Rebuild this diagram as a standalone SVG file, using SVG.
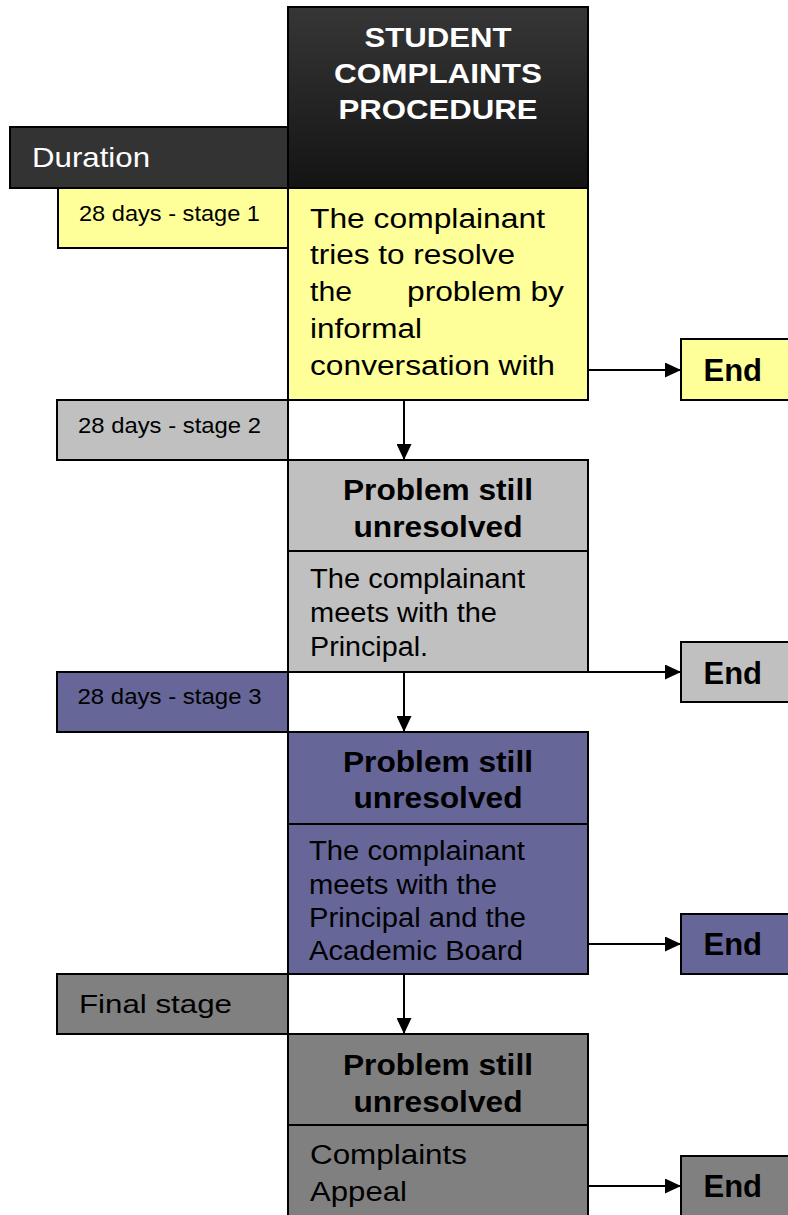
<svg xmlns="http://www.w3.org/2000/svg" width="788" height="1215" viewBox="0 0 788 1215">
<defs>
<linearGradient id="hdr" x1="0" y1="0" x2="0" y2="1"><stop offset="0" stop-color="#363636"/><stop offset="1" stop-color="#141414"/></linearGradient>
<marker id="arr" markerUnits="userSpaceOnUse" markerWidth="16" markerHeight="15" refX="16" refY="7.5" orient="auto"><path d="M0,0 L16,7.5 L0,15 z" fill="#000"/></marker>
</defs>
<style>
.box{stroke:#000;stroke-width:2}
.y{fill:#ffff99}.g{fill:#c0c0c0}.p{fill:#666699}.d{fill:#808080}
text{font-family:"Liberation Sans",Arial,sans-serif;fill:#000}
.t{font-size:27px}
.b{font-size:29px;font-weight:bold;text-anchor:middle}
.lbl{font-size:22px}
.end{font-size:31px;font-weight:bold}
.w{fill:#fff}
.title{font-size:28px;font-weight:bold;text-anchor:middle;fill:#fff}
.conn{stroke:#000;stroke-width:2;fill:none}
</style>
<g id="duration">
<rect class="box" x="10" y="127" width="278" height="61" fill="#333333"/>
<text class="w" x="32" y="167" font-size="28" textLength="118" lengthAdjust="spacingAndGlyphs">Duration</text>
</g>
<g id="header">
<rect class="box" x="288" y="7" width="300" height="181" fill="url(#hdr)"/>
<text class="title" x="438" y="46.5" textLength="147" lengthAdjust="spacingAndGlyphs">STUDENT</text>
<text class="title" x="438" y="82.5" textLength="208" lengthAdjust="spacingAndGlyphs">COMPLAINTS</text>
<text class="title" x="438" y="118.5" textLength="199" lengthAdjust="spacingAndGlyphs">PROCEDURE</text>
</g>
<g id="stage1-label">
<rect class="box y" x="58" y="188" width="230" height="60"/>
<text class="lbl" x="79" y="220.5" textLength="181" lengthAdjust="spacingAndGlyphs">28 days - stage 1</text>
</g>
<g id="stage1">
<rect class="box y" x="288" y="188" width="300" height="212"/>
<text class="t" x="310" y="227.5" textLength="235" lengthAdjust="spacingAndGlyphs">The complainant</text>
<text class="t" x="310" y="264" textLength="205" lengthAdjust="spacingAndGlyphs">tries to resolve</text>
<text class="t" x="310" y="300.5" textLength="42" lengthAdjust="spacingAndGlyphs">the</text>
<text class="t" x="407" y="300.5" textLength="157" lengthAdjust="spacingAndGlyphs">problem by</text>
<text class="t" x="310" y="337.5" textLength="112" lengthAdjust="spacingAndGlyphs">informal</text>
<text class="t" x="310" y="374.5" textLength="245" lengthAdjust="spacingAndGlyphs">conversation with</text>
</g>
<g id="end1">
<rect class="box y" x="681" y="339" width="120" height="61"/>
<text class="end" x="703.5" y="381">End</text>
</g>
<g id="stage2-label">
<rect class="box g" x="57" y="400" width="231" height="60"/>
<text class="lbl" x="78" y="432.5" textLength="183" lengthAdjust="spacingAndGlyphs">28 days - stage 2</text>
</g>
<g id="stage2">
<rect class="box g" x="288" y="460" width="300" height="91"/>
<text class="b" x="438" y="500" textLength="190" lengthAdjust="spacingAndGlyphs">Problem still</text>
<text class="b" x="438" y="536.5" textLength="169" lengthAdjust="spacingAndGlyphs">unresolved</text>
<rect class="box g" x="288" y="551" width="300" height="121"/>
<text class="t" x="310" y="588" textLength="215" lengthAdjust="spacingAndGlyphs">The complainant</text>
<text class="t" x="310" y="621.5" textLength="187" lengthAdjust="spacingAndGlyphs">meets with the</text>
<text class="t" x="310" y="656" textLength="118" lengthAdjust="spacingAndGlyphs">Principal.</text>
</g>
<g id="end2">
<rect class="box g" x="681" y="642" width="120" height="60"/>
<text class="end" x="703.5" y="683.5">End</text>
</g>
<g id="stage3-label">
<rect class="box p" x="57" y="672" width="231" height="60"/>
<text class="lbl" x="77.5" y="704" textLength="184" lengthAdjust="spacingAndGlyphs">28 days - stage 3</text>
</g>
<g id="stage3">
<rect class="box p" x="288" y="732" width="300" height="92"/>
<text class="b" x="438" y="771.5" textLength="190" lengthAdjust="spacingAndGlyphs">Problem still</text>
<text class="b" x="438" y="808" textLength="169" lengthAdjust="spacingAndGlyphs">unresolved</text>
<rect class="box p" x="288" y="824" width="300" height="150"/>
<text class="t" x="309" y="860" textLength="216" lengthAdjust="spacingAndGlyphs">The complainant</text>
<text class="t" x="309" y="893.5" textLength="188" lengthAdjust="spacingAndGlyphs">meets with the</text>
<text class="t" x="309" y="927" textLength="217" lengthAdjust="spacingAndGlyphs">Principal and the</text>
<text class="t" x="309" y="960" textLength="214" lengthAdjust="spacingAndGlyphs">Academic Board</text>
</g>
<g id="end3">
<rect class="box p" x="681" y="914" width="120" height="60"/>
<text class="end" x="703.5" y="955">End</text>
</g>
<g id="final-label">
<rect class="box d" x="57" y="974" width="231" height="60"/>
<text x="79" y="1012.5" font-size="26" textLength="153" lengthAdjust="spacingAndGlyphs">Final stage</text>
</g>
<g id="final">
<rect class="box d" x="288" y="1034" width="300" height="91"/>
<text class="b" x="438" y="1075" textLength="190" lengthAdjust="spacingAndGlyphs">Problem still</text>
<text class="b" x="438" y="1111.5" textLength="169" lengthAdjust="spacingAndGlyphs">unresolved</text>
<rect class="box d" x="288" y="1125" width="300" height="100"/>
<text class="t" x="310" y="1164" textLength="157" lengthAdjust="spacingAndGlyphs">Complaints</text>
<text class="t" x="310" y="1201" textLength="97" lengthAdjust="spacingAndGlyphs">Appeal</text>
</g>
<g id="end4">
<rect class="box d" x="681" y="1156" width="120" height="70"/>
<text class="end" x="703.5" y="1197">End</text>
</g>
<g id="connectors">
<line class="conn" x1="588" y1="370" x2="681" y2="370" marker-end="url(#arr)"/>
<line class="conn" x1="588" y1="672" x2="681" y2="672" marker-end="url(#arr)"/>
<line class="conn" x1="588" y1="944" x2="681" y2="944" marker-end="url(#arr)"/>
<line class="conn" x1="588" y1="1186" x2="681" y2="1186" marker-end="url(#arr)"/>
<line class="conn" x1="404" y1="400" x2="404" y2="460" marker-end="url(#arr)"/>
<line class="conn" x1="404" y1="672" x2="404" y2="732" marker-end="url(#arr)"/>
<line class="conn" x1="404" y1="974" x2="404" y2="1034" marker-end="url(#arr)"/>
</g>
</svg>
